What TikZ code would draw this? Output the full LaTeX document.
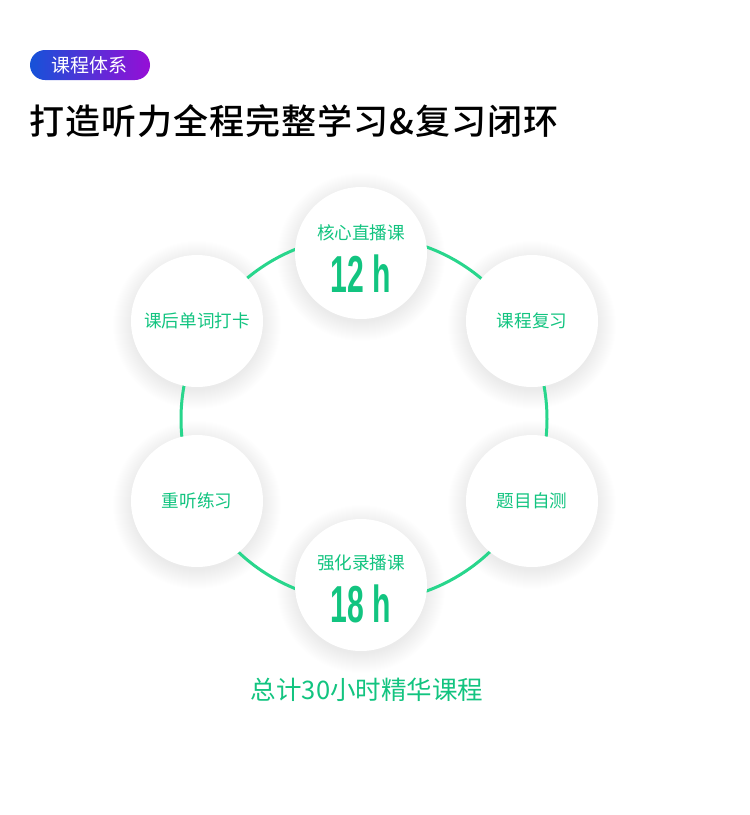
\documentclass[tikz,border=0pt]{standalone}
\usepackage{fontspec}
\usepackage{graphicx}
\newfontfamily\cjk{Noto Sans CJK SC}
\newfontfamily\cjkmed{Noto Sans CJK SC}[UprightFont={* Medium},LetterSpace=3]
\newfontfamily\numfont{Liberation Sans}
\usetikzlibrary{shadings}
\definecolor{txtgreen}{RGB}{18,196,128}
\definecolor{ringgreen}{RGB}{40,214,140}
\definecolor{badgeblue}{RGB}{22,82,216}
\definecolor{badgepurple}{RGB}{150,14,214}
\tikzset{
  lbl/.style={text=txtgreen,font=\cjk\fontsize{17.6}{17.6}\selectfont,inner sep=0pt},
  num/.style={text=txtgreen,inner sep=0pt,font=\numfont\bfseries\fontsize{52}{52}\selectfont},
}
\begin{document}
\begin{tikzpicture}[x=1pt,y=-1pt]
\useasboundingbox (0,0) rectangle (750,815);
\fill[white] (0,0) rectangle (750,815);
% badge
\shade[left color=badgeblue,right color=badgepurple,rounded corners=15pt] (30,50) rectangle (150,80);
\node[text=white,font=\cjk\fontsize{19}{19}\selectfont,inner sep=0pt] (badge) at (90,65) {课程体系};
% title
\node[anchor=west,inner sep=0pt,font=\cjkmed\fontsize{35}{35}\selectfont] (title) at (29,121) {打造听力全程完整学习\&复习闭环};
% circle centres
\coordinate (c1) at (361,253);
\coordinate (c2) at (532,321);
\coordinate (c3) at (532,501);
\coordinate (c4) at (361,585);
\coordinate (c5) at (197,501);
\coordinate (c6) at (197,321);
\coordinate (ringc) at (364,419);
% shadows
\foreach \c in {c1,c2,c3,c4,c5,c6}{
  \foreach \i in {1,...,20}{
    \fill[black,opacity=0.0033] ([yshift=-4pt]\c) circle[radius={64pt+\i pt}];
  }
}
% ring
\draw[ringgreen,line width=3pt] (ringc) circle[radius=183pt];
% discs
\foreach \c in {c1,c2,c3,c4,c5,c6}{
  \fill[white] (\c) circle[radius=66pt];
}
% labels
\node[lbl] (l1) at (361,233) {核心直播课};
\node[num] (n1) at (361,274) {\scalebox{0.58}[1]{12 h}};
\node[lbl] (l2) at (532,321) {课程复习};
\node[lbl] (l3) at (532,501) {题目自测};
\node[lbl] (l4) at (361,563) {强化录播课};
\node[num] (n4) at (361,604) {\scalebox{0.58}[1]{18 h}};
\node[lbl] (l5) at (197,501) {重听练习};
\node[lbl] (l6) at (197,321) {课后单词打卡};
% total
\node[text=txtgreen,font=\cjk\fontsize{25.5}{25.5}\selectfont,inner sep=0pt] (total) at (367,690) {总计30小时精华课程};
\end{tikzpicture}
\end{document}
